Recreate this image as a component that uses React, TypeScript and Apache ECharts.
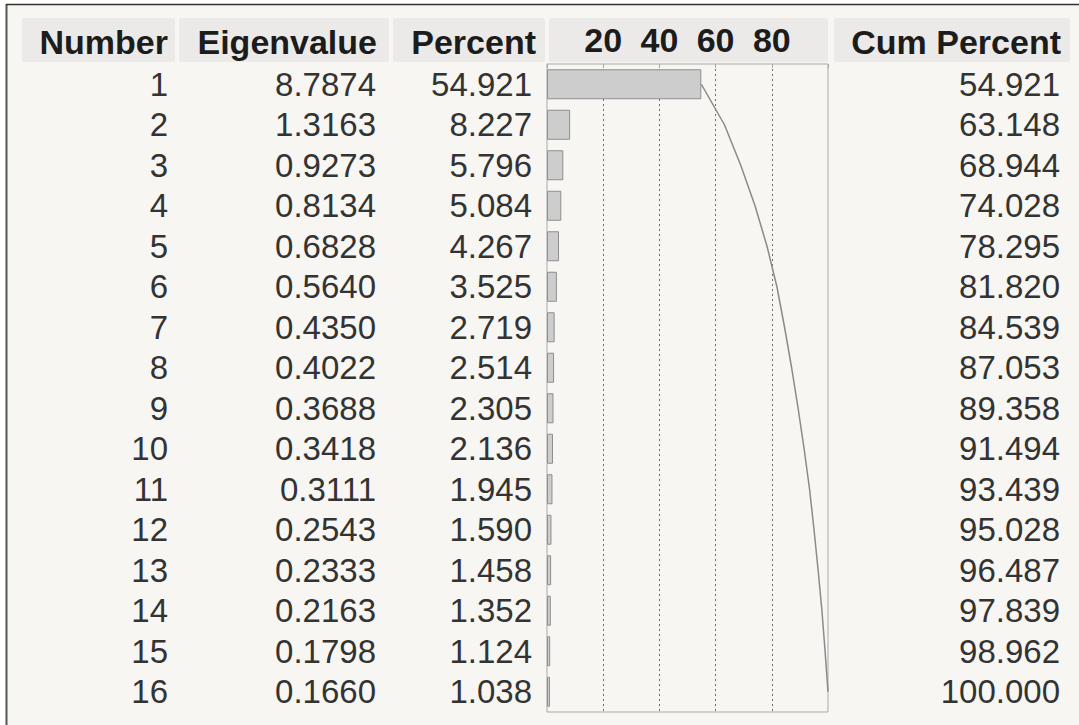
import React, { useEffect, useRef } from "react";
import * as echarts from "echarts";

const numbers = ["1", "2", "3", "4", "5", "6", "7", "8", "9", "10", "11", "12", "13", "14", "15", "16"];
const eigenvalues = ["8.7874", "1.3163", "0.9273", "0.8134", "0.6828", "0.5640", "0.4350", "0.4022", "0.3688", "0.3418", "0.3111", "0.2543", "0.2333", "0.2163", "0.1798", "0.1660"];
const percents = [54.921, 8.227, 5.796, 5.084, 4.267, 3.525, 2.719, 2.514, 2.305, 2.136, 1.945, 1.59, 1.458, 1.352, 1.124, 1.038];
const cumPercents = [54.921, 63.148, 68.944, 74.028, 78.295, 81.82, 84.539, 87.053, 89.358, 91.494, 93.439, 95.028, 96.487, 97.839, 98.962, 100.0];
const headers = ["Number", "Eigenvalue", "Percent", "Cum Percent"];

const FONT = "'Liberation Sans', Arial, Helvetica, sans-serif";

export default function App() {
  const ref = useRef<HTMLDivElement>(null);

  useEffect(() => {
    if (!ref.current) return;
    const chart = echarts.init(ref.current, undefined, { renderer: "svg" });

    const bodyLabel = {
      fontFamily: FONT,
      fontSize: 33,
      color: "#333333",
      margin: 8,
      interval: 0,
    };
    const yBase = {
      type: "category" as const,
      inverse: true,
      axisLine: { show: false },
      axisTick: { show: false },
      splitLine: { show: false },
    };

    const headerCells = [
      { x: 22, w: 153 },
      { x: 179, w: 210 },
      { x: 393, w: 152 },
      { x: 549, w: 279 },
      { x: 834, w: 236 },
    ];
    const headerRight = [168, 377, 536, 1061];

    const graphics: any[] = [
      { type: "rect", z: -20, shape: { x: 6, y: 4, width: 1073, height: 721 }, style: { fill: "#f7f6f2" } },
      { type: "line", z: -5, shape: { x1: 6.5, y1: 4, x2: 6.5, y2: 725 }, style: { stroke: "#555555", lineWidth: 2 } },
      { type: "line", z: -5, shape: { x1: 6, y1: 4.5, x2: 1079, y2: 4.5 }, style: { stroke: "#333333", lineWidth: 1.5 } },
      ...headerCells.map((c) => ({
        type: "rect",
        z: -10,
        shape: { x: c.x, y: 18, width: c.w, height: 44, r: 2 },
        style: { fill: "#ebeae8" },
      })),
      ...headers.map((h, i) => ({
        type: "text",
        z: 5,
        x: headerRight[i],
        y: 42,
        style: {
          text: h,
          font: `bold 34px ${FONT}`,
          fill: "#1c1c1c",
          align: "right",
          verticalAlign: "middle",
        },
      })),
    ];

    chart.setOption({
      animation: false,
      grid: {
        left: 547,
        right: 251,
        top: 64,
        bottom: 13,
        show: true,
        borderColor: "#a9a9a9",
        borderWidth: 1,
        backgroundColor: "transparent",
      },
      xAxis: {
        type: "value",
        position: "top",
        min: 0,
        max: 100,
        interval: 20,
        axisLine: { show: false },
        axisTick: { show: true, inside: true, length: 4, lineStyle: { color: "#a9a9a9" } },
        axisLabel: {
          fontFamily: FONT,
          fontSize: 34,
          fontWeight: "bold",
          color: "#1c1c1c",
          margin: 7,
          formatter: (v: number) => (v > 0 && v < 100 ? String(v) : ""),
        },
        splitLine: {
          show: true,
          showMinLine: false,
          showMaxLine: false,
          lineStyle: { color: "#6e6e6e", type: [2, 3], width: 1 },
        },
      },
      yAxis: [
        { ...yBase, data: numbers, position: "left", offset: 371, axisLabel: { ...bodyLabel } },
        { ...yBase, data: eigenvalues, position: "left", offset: 163, axisLabel: { ...bodyLabel } },
        { ...yBase, data: percents.map((v) => v.toFixed(3)), position: "left", offset: 0, axisLabel: { ...bodyLabel, margin: 15 } },
        { ...yBase, data: cumPercents.map((v) => v.toFixed(3)), position: "right", offset: 0, axisLabel: { ...bodyLabel, align: "right", margin: 232 } },
      ],
      series: [
        {
          type: "bar",
          yAxisIndex: 0,
          data: percents,
          barWidth: 30,
          z: 2,
          itemStyle: { color: "#cdcdcd", borderColor: "#8e8e8e", borderWidth: 1 },
        },
        {
          type: "line",
          yAxisIndex: 0,
          data: cumPercents,
          symbol: "none",
          z: 3,
          lineStyle: { color: "#8a8a8a", width: 1.5 },
        },
      ],
      graphic: graphics,
    });

    return () => chart.dispose();
  }, []);

  return (
    <div style={{ position: "fixed", left: 0, top: 0, width: 1079, height: 725, background: "#ffffff" }}>
      <div ref={ref} style={{ width: 1079, height: 725 }} />
    </div>
  );
}
